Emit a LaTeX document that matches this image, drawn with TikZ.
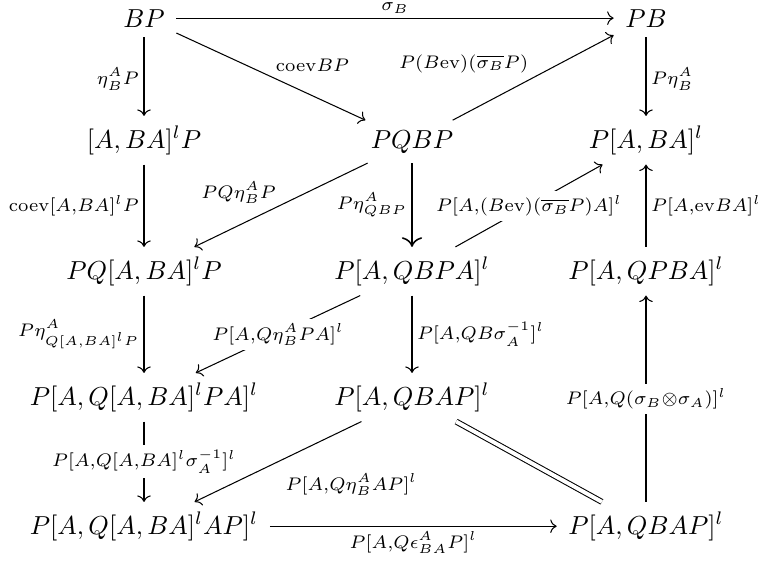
\documentclass[tikz,border=0pt]{standalone}
\usetikzlibrary{arrows.meta,cd}
\begin{document}
\begin{tikzpicture}[x=0.3846pt,y=-0.3846pt,
  obj/.style={anchor=base, inner xsep=1ex, inner ysep=0.85ex},
  lbl/.style={inner sep=0.4ex},
  desc/.style={lbl, fill=white, anchor=center},
  arr/.style={-{cm to}, line width=0.4pt}]
\useasboundingbox (0,0) rectangle (762,572);
\node[obj] (BP) at (144,27) {$BP$};
\node[obj] (PB) at (646,27) {$PB$};
\node[obj] (L2) at (144,148) {$[A,BA]^lP$};
\node[obj] (M2) at (412,148) {$PQBP$};
\node[obj] (R2) at (646,148) {$P[A,BA]^l$};
\node[obj] (L3) at (144,279) {$PQ[A,BA]^lP$};
\node[obj] (M3) at (412,279) {$P[A,QBPA]^l$};
\node[obj] (R3) at (646,279) {$P[A,QPBA]^l$};
\node[obj] (L4) at (144,405) {$P[A,Q[A,BA]^lPA]^l$};
\node[obj] (M4) at (412,405) {$P[A,QBAP]^l$};
\node[obj] (L5) at (144,534) {$P[A,Q[A,BA]^lAP]^l$};
\node[obj] (R5) at (646,534) {$P[A,QBAP]^l$};

\draw[arr] (BP) -- node[lbl,above]{$\scriptstyle\sigma_B$} (PB);
\draw[arr] (BP) -- node[lbl,left,yshift=-1pt]{$\scriptstyle\eta^A_BP$} (L2);
\draw[arr] (BP) -- node[lbl,anchor=south west]{$\scriptstyle\mathrm{coev}BP$} (M2);
\draw[arr] (M2) -- node[lbl,anchor=south east]{$\scriptstyle P(B\mathrm{ev})(\overline{\sigma_B}P)$} (PB);
\draw[arr] (PB) -- node[lbl,right,yshift=-1pt]{$\scriptstyle P\eta^A_B$} (R2);
\draw[arr] (L2) -- node[lbl,left]{$\scriptstyle\mathrm{coev}[A,BA]^lP$} (L3);
\draw[arr] (M2) -- node[lbl,anchor=south east,yshift=-1.5pt]{$\scriptstyle PQ\eta^A_BP$} (L3);
\draw[arr,line width=0.6pt] (M2) -- node[lbl,left]{$\scriptstyle P\eta^A_{QBP}$} (M3);
\draw[arr] (M3) -- node[desc]{$\scriptstyle P[A,(B\mathrm{ev})(\overline{\sigma_B}P)A]^l$} (R2);
\draw[arr] (R3) -- node[lbl,right]{$\scriptstyle P[A,\mathrm{ev}BA]^l$} (R2);
\draw[arr] (L3) -- node[lbl,left]{$\scriptstyle P\eta^A_{Q[A,BA]^lP}$} (L4);
\draw[arr] (M3) -- node[desc]{$\scriptstyle P[A,Q\eta^A_BPA]^l$} (L4);
\draw[arr] (M3) -- node[lbl,right]{$\scriptstyle P[A,QB\sigma_A^{-1}]^l$} (M4);
\draw[arr] (R5) -- node[desc]{$\scriptstyle P[A,Q(\sigma_B\otimes\sigma_A)]^l$} (R3);
\draw[arr] (L4) -- node[desc]{$\scriptstyle P[A,Q[A,BA]^l\sigma_A^{-1}]^l$} (L5);
\draw[arr] (M4) -- node[lbl,anchor=north west,yshift=-2.5pt,xshift=1pt]{$\scriptstyle P[A,Q\eta^A_BAP]^l$} (L5);
\draw[double, double distance=1.5pt] (M4) -- (R5);
\draw[arr] (L5) -- node[lbl,below]{$\scriptstyle P[A,Q\epsilon^A_{BA}P]^l$} (R5);
\end{tikzpicture}
\end{document}
